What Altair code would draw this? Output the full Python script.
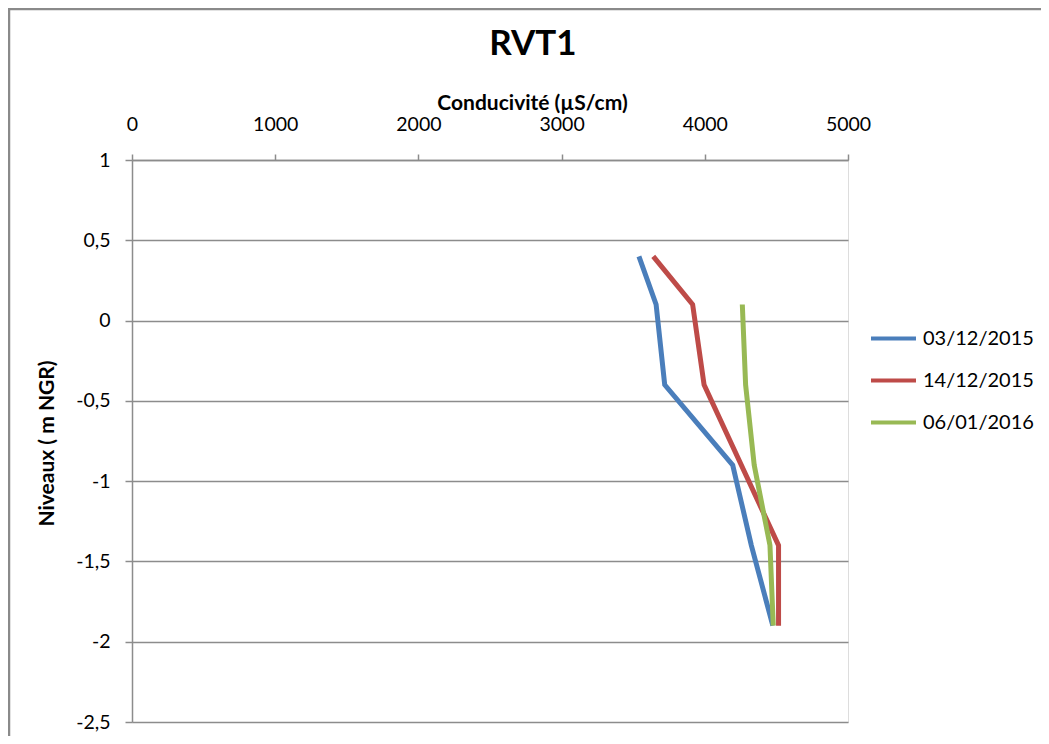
import altair as alt
import pandas as pd

series = ["03/12/2015", "14/12/2015", "06/01/2016"]
colors = ["#4A7EBB", "#BE4B48", "#98B954"]

niv_blue = [0.4, 0.1, -0.4, -0.9, -1.4, -1.9]
cond_blue = [3540, 3660, 3720, 4195, 4325, 4475]

niv_red = [0.4, 0.1, -0.4, -1.4, -1.9]
cond_red = [3640, 3915, 3995, 4515, 4515]

niv_green = [0.1, -0.4, -0.9, -1.4, -1.9]
cond_green = [4262, 4285, 4345, 4455, 4478]

x_ticks = [0, 1000, 2000, 3000, 4000, 5000]
y_ticks = [-2.5, -2, -1.5, -1, -0.5, 0, 0.5, 1]

rows = []
for name, nivs, conds in [(series[0], niv_blue, cond_blue),
                          (series[1], niv_red, cond_red),
                          (series[2], niv_green, cond_green)]:
    for i, (n, c) in enumerate(zip(nivs, conds)):
        rows.append({"Date": name, "Niveau": n, "Cond": c, "ord": i})
df = pd.DataFrame(rows)

FONT = "Lato"
GRAY = "#8c8c8c"

border = alt.Chart(pd.DataFrame({"a": [0]})).mark_rect(
    fill=None, fillOpacity=0, stroke="#8a8a8a", strokeWidth=2.5
).encode(
    x=alt.value(-123), x2=alt.value(1000),
    y=alt.value(-151), y2=alt.value(700)
)

lines = alt.Chart(df).mark_line(strokeWidth=5, clip=False).encode(
    x=alt.X("Cond:Q",
            scale=alt.Scale(domain=[0, 5000], nice=False, zero=False),
            axis=alt.Axis(orient="top", values=x_ticks, grid=False, format="d",
                          title="Conducivité (µS/cm)",
                          titleX=400, titleY=-57, titleAlign="center",
                          titleBaseline="middle",
                          titleFontSize=21, titleFontWeight="bold",
                          labelFontSize=19.5, labelPadding=20, labelFlush=False,
                          tickSize=6, tickColor=GRAY, domainColor=GRAY,
                          domainWidth=1.5, tickWidth=1.5,
                          labelColor="black", titleColor="black")),
    y=alt.Y("Niveau:Q",
            scale=alt.Scale(domain=[-2.5, 1], nice=False, zero=False),
            axis=alt.Axis(values=y_ticks, grid=True, gridColor=GRAY,
                          gridWidth=1.5,
                          labelExpr="replace(toString(datum.value), '.', ',')",
                          title="Niveaux ( m NGR)",
                          titleX=-85, titleY=283, titleAlign="center",
                          titleBaseline="middle", titleAngle=-90,
                          titleFontSize=21, titleFontWeight="bold",
                          labelFontSize=19.5, labelPadding=15,
                          tickSize=7, tickColor=GRAY, domainColor=GRAY,
                          domainWidth=1.5, tickWidth=1.5,
                          labelColor="black", titleColor="black")),
    color=alt.Color("Date:N",
                    scale=alt.Scale(domain=series, range=colors),
                    sort=series,
                    legend=alt.Legend(orient="none", legendX=737, legendY=154,
                                      title=None, symbolType="stroke",
                                      symbolSize=2025, symbolStrokeWidth=4,
                                      labelFontSize=20, labelColor="black",
                                      rowPadding=7, labelOffset=5)),
    order="ord:Q",
)

chart = alt.layer(border, lines).properties(
    width=716, height=562,
    title=alt.TitleParams("RVT1", fontSize=35, fontWeight="bold",
                          anchor="middle", dx=43, dy=58, color="black"),
    autosize=alt.AutoSizeParams(type="none"),
    padding={"left": 124, "top": 152, "right": 193, "bottom": 14},
).configure_view(stroke=None).configure(font=FONT)

chart.save("out.html", embed_options={"renderer": "svg", "actions": False})
